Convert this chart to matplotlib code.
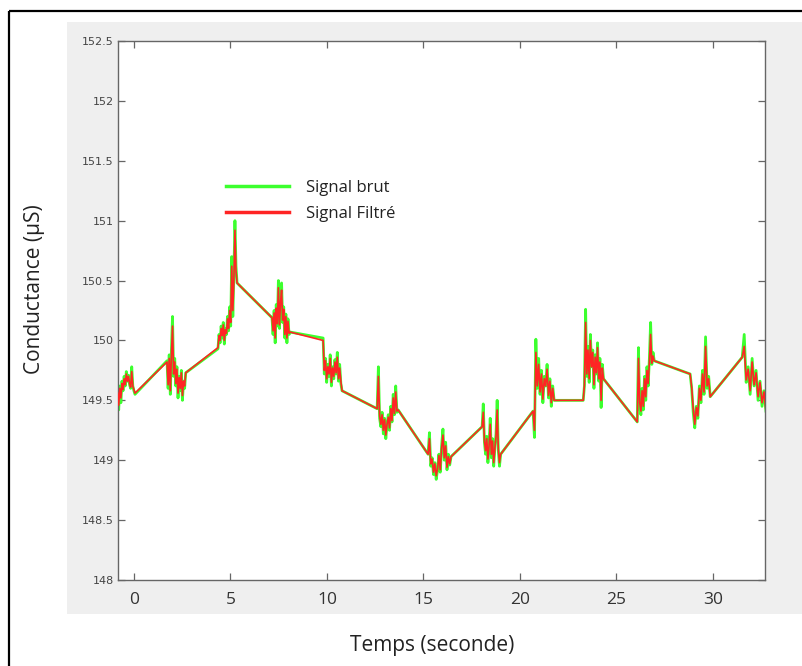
import numpy as np
import matplotlib
matplotlib.use("Agg")
import matplotlib.pyplot as plt
from matplotlib.patches import Rectangle

# ---------------- data ----------------
# each burst: (t_start, t_end)
burst_times = [(-0.85, 0.05), (1.71, 2.68), (4.35, 5.34), (7.15, 8.09), (9.80, 10.78),
               (12.60, 13.69), (15.24, 16.43), (18.04, 19.00), (20.68, 21.77),
               (23.28, 24.33), (26.08, 26.96), (28.82, 29.86), (31.52, 32.75)]

raw_bursts = [
    [149.55, 149.42, 149.62, 149.48, 149.66, 149.58, 149.70, 149.62, 149.74, 149.66, 149.71, 149.63, 149.60, 149.78, 149.62, 149.58, 149.55],
    [149.83, 149.60, 149.88, 149.55, 149.92, 150.20, 149.70, 149.85, 149.62, 149.78, 149.52, 149.70, 149.58, 149.75, 149.50, 149.66, 149.60, 149.73],
    [149.93, 150.05, 149.98, 150.12, 150.02, 150.15, 149.97, 150.10, 150.05, 150.20, 150.08, 150.28, 150.12, 150.70, 150.20, 150.55, 151.00, 150.62, 150.48],
    [150.19, 150.05, 150.25, 149.98, 150.30, 150.12, 150.50, 150.10, 150.35, 150.48, 150.15, 150.28, 150.02, 150.22, 149.98, 150.18, 150.05, 150.07],
    [150.02, 149.72, 149.85, 149.65, 149.80, 149.70, 149.88, 149.62, 149.78, 149.68, 149.84, 149.72, 149.90, 149.66, 149.80, 149.64, 149.58],
    [149.43, 149.78, 149.35, 149.28, 149.40, 149.22, 149.35, 149.18, 149.30, 149.38, 149.25, 149.45, 149.32, 149.55, 149.38, 149.62, 149.40, 149.42],
    [149.05, 149.23, 148.95, 149.02, 148.88, 148.98, 148.84, 148.92, 149.05, 148.90, 149.12, 149.26, 149.00, 149.15, 148.92, 149.05, 148.96, 149.03],
    [149.28, 149.47, 149.15, 149.05, 149.20, 148.98, 149.12, 149.35, 149.02, 149.18, 148.95, 149.10, 149.22, 149.50, 149.08, 148.95, 149.05],
    [149.41, 149.19, 150.01, 149.60, 149.85, 149.55, 149.75, 149.48, 149.70, 149.62, 149.80, 149.52, 149.68, 149.45, 149.62, 149.50],
    [149.50, 149.62, 150.26, 149.70, 149.95, 149.65, 150.05, 149.78, 149.92, 149.60, 149.88, 149.72, 149.98, 149.66, 149.85, 149.44, 149.80, 149.68],
    [149.32, 149.94, 149.45, 149.38, 149.60, 149.42, 149.70, 149.50, 149.78, 149.62, 149.85, 150.15, 149.80, 149.90, 149.83],
    [149.72, 149.60, 149.40, 149.27, 149.45, 149.35, 149.62, 149.48, 149.75, 149.55, 150.03, 149.60, 149.70, 149.53],
    [149.86, 150.05, 149.65, 149.78, 149.55, 149.85, 149.62, 149.75, 149.50, 149.66, 149.45, 149.58, 149.41],
]

filt_bursts = [
    [149.56, 149.46, 149.60, 149.52, 149.64, 149.59, 149.68, 149.63, 149.72, 149.66, 149.70, 149.64, 149.61, 149.74, 149.62, 149.59, 149.56],
    [149.82, 149.63, 149.85, 149.58, 149.88, 150.12, 149.72, 149.82, 149.64, 149.76, 149.56, 149.69, 149.60, 149.73, 149.54, 149.66, 149.62, 149.73],
    [149.94, 150.04, 150.00, 150.10, 150.04, 150.13, 150.00, 150.09, 150.06, 150.18, 150.10, 150.25, 150.15, 150.62, 150.25, 150.50, 150.92, 150.58, 150.48],
    [150.19, 150.08, 150.23, 150.02, 150.27, 150.14, 150.44, 150.13, 150.32, 150.42, 150.17, 150.26, 150.05, 150.20, 150.02, 150.16, 150.06, 150.07],
    [150.00, 149.75, 149.83, 149.68, 149.78, 149.72, 149.85, 149.65, 149.77, 149.70, 149.82, 149.73, 149.86, 149.68, 149.77, 149.66, 149.58],
    [149.43, 149.70, 149.37, 149.30, 149.38, 149.25, 149.34, 149.21, 149.30, 149.36, 149.27, 149.43, 149.33, 149.52, 149.39, 149.57, 149.41, 149.42],
    [149.05, 149.18, 148.97, 149.01, 148.90, 148.97, 148.87, 148.93, 149.04, 148.92, 149.10, 149.21, 149.02, 149.12, 148.94, 149.03, 148.97, 149.03],
    [149.28, 149.40, 149.16, 149.08, 149.18, 149.01, 149.12, 149.30, 149.05, 149.16, 148.98, 149.10, 149.20, 149.42, 149.09, 148.98, 149.05],
    [149.41, 149.25, 149.90, 149.62, 149.80, 149.57, 149.72, 149.51, 149.68, 149.62, 149.76, 149.54, 149.66, 149.48, 149.60, 149.50],
    [149.50, 149.63, 150.15, 149.72, 149.92, 149.68, 150.00, 149.78, 149.90, 149.63, 149.86, 149.73, 149.94, 149.68, 149.82, 149.50, 149.77, 149.68],
    [149.32, 149.85, 149.48, 149.41, 149.58, 149.45, 149.68, 149.53, 149.75, 149.64, 149.82, 150.05, 149.81, 149.87, 149.83],
    [149.72, 149.61, 149.43, 149.30, 149.44, 149.37, 149.60, 149.50, 149.72, 149.57, 149.95, 149.62, 149.68, 149.53],
    [149.86, 149.95, 149.67, 149.76, 149.58, 149.82, 149.63, 149.73, 149.53, 149.65, 149.48, 149.57, 149.41],
]

x_ticks = [0, 5, 10, 15, 20, 25, 30]
y_ticks = [148, 148.5, 149, 149.5, 150, 150.5, 151, 151.5, 152, 152.5]
y_ticklabels = ["148", "148.5", "149", "149.5", "150", "150.5", "151", "151.5", "152", "152.5"]
labels = ["Signal brut", "Signal Filtré"]

# ---------------- assemble series (sampling grid inside each burst) ----------------
def assemble(bursts):
    t_all, v_all = [], []
    for (t0, t1), vals in zip(burst_times, bursts):
        t_all.extend(np.linspace(t0, t1, len(vals)))
        v_all.extend(vals)
    return np.array(t_all), np.array(v_all)

t_raw, v_raw = assemble(raw_bursts)
t_filt, v_filt = assemble(filt_bursts)

# ---------------- figure ----------------
W, H = 802, 666
fig = plt.figure(figsize=(W / 100, H / 100), dpi=100)
fig.patch.set_facecolor("white")

def fx(px):
    return px / W

def fy(py):
    return 1 - py / H

# gray panel background (its own axes, behind the data axes)
bg = fig.add_axes([0, 0, 1, 1], zorder=0)
bg.set_xlim(0, W)
bg.set_ylim(H, 0)
bg.axis("off")
bg.add_patch(Rectangle((67, 22), 802 - 67, 614 - 22, facecolor="#efefef", edgecolor="none"))
bg.add_patch(Rectangle((9, 11), 830, 700, facecolor="none", edgecolor="black", linewidth=1.6))

ax = fig.add_axes([fx(118), fy(580), fx(765) - fx(118), fy(41) - fy(580)], zorder=2)
ax.set_facecolor("white")

ax.plot(t_raw, v_raw, color="#3cff2e", lw=2.0, label=labels[0], zorder=2)
ax.plot(t_filt, v_filt, color="#ff2424", lw=1.2, label=labels[1], zorder=3)

ax.set_xlim(-0.83, 32.7)
ax.set_ylim(148, 152.5)
ax.set_xticks(x_ticks)
ax.set_yticks(y_ticks)
ax.set_yticklabels(y_ticklabels)

for s in ax.spines.values():
    s.set_color("#666666")
    s.set_linewidth(1.0)

ax.tick_params(axis="both", direction="in", length=5, width=0.9, color="#666666",
               top=True, right=True)
ax.tick_params(axis="y", labelsize=8, labelcolor="#444444", pad=3)
ax.tick_params(axis="x", labelsize=12.5, labelcolor="#333333", pad=9)
for lbl in ax.get_yticklabels():
    lbl.set_family(["Liberation Sans Narrow", "DejaVu Sans"])
for lbl in ax.get_xticklabels():
    lbl.set_family(["Open Sans", "DejaVu Sans"])

fig.text(fx(35), fy(289), "Conductance (µS)", rotation=90, ha="center", va="center",
         fontsize=15, color="#222222", family=["Open Sans", "DejaVu Sans"])
fig.text(fx(432), fy(645), "Temps (seconde)", ha="center", va="center",
         fontsize=15, color="#222222", family=["Open Sans", "DejaVu Sans"])

leg = ax.legend(loc="upper left", bbox_to_anchor=((226 - 118) / 647, 1 - (180 - 41) / 539),
                frameon=False, handlelength=3.8, handletextpad=1.0,
                labelspacing=0.62, borderpad=0, borderaxespad=0,
                prop={"family": ["Open Sans", "DejaVu Sans"], "size": 12})
for line in leg.get_lines():
    line.set_linewidth(2.5)
    line.set_alpha(1)
for txt in leg.get_texts():
    txt.set_color("#222222")

fig.savefig("out.png", dpi=100)
